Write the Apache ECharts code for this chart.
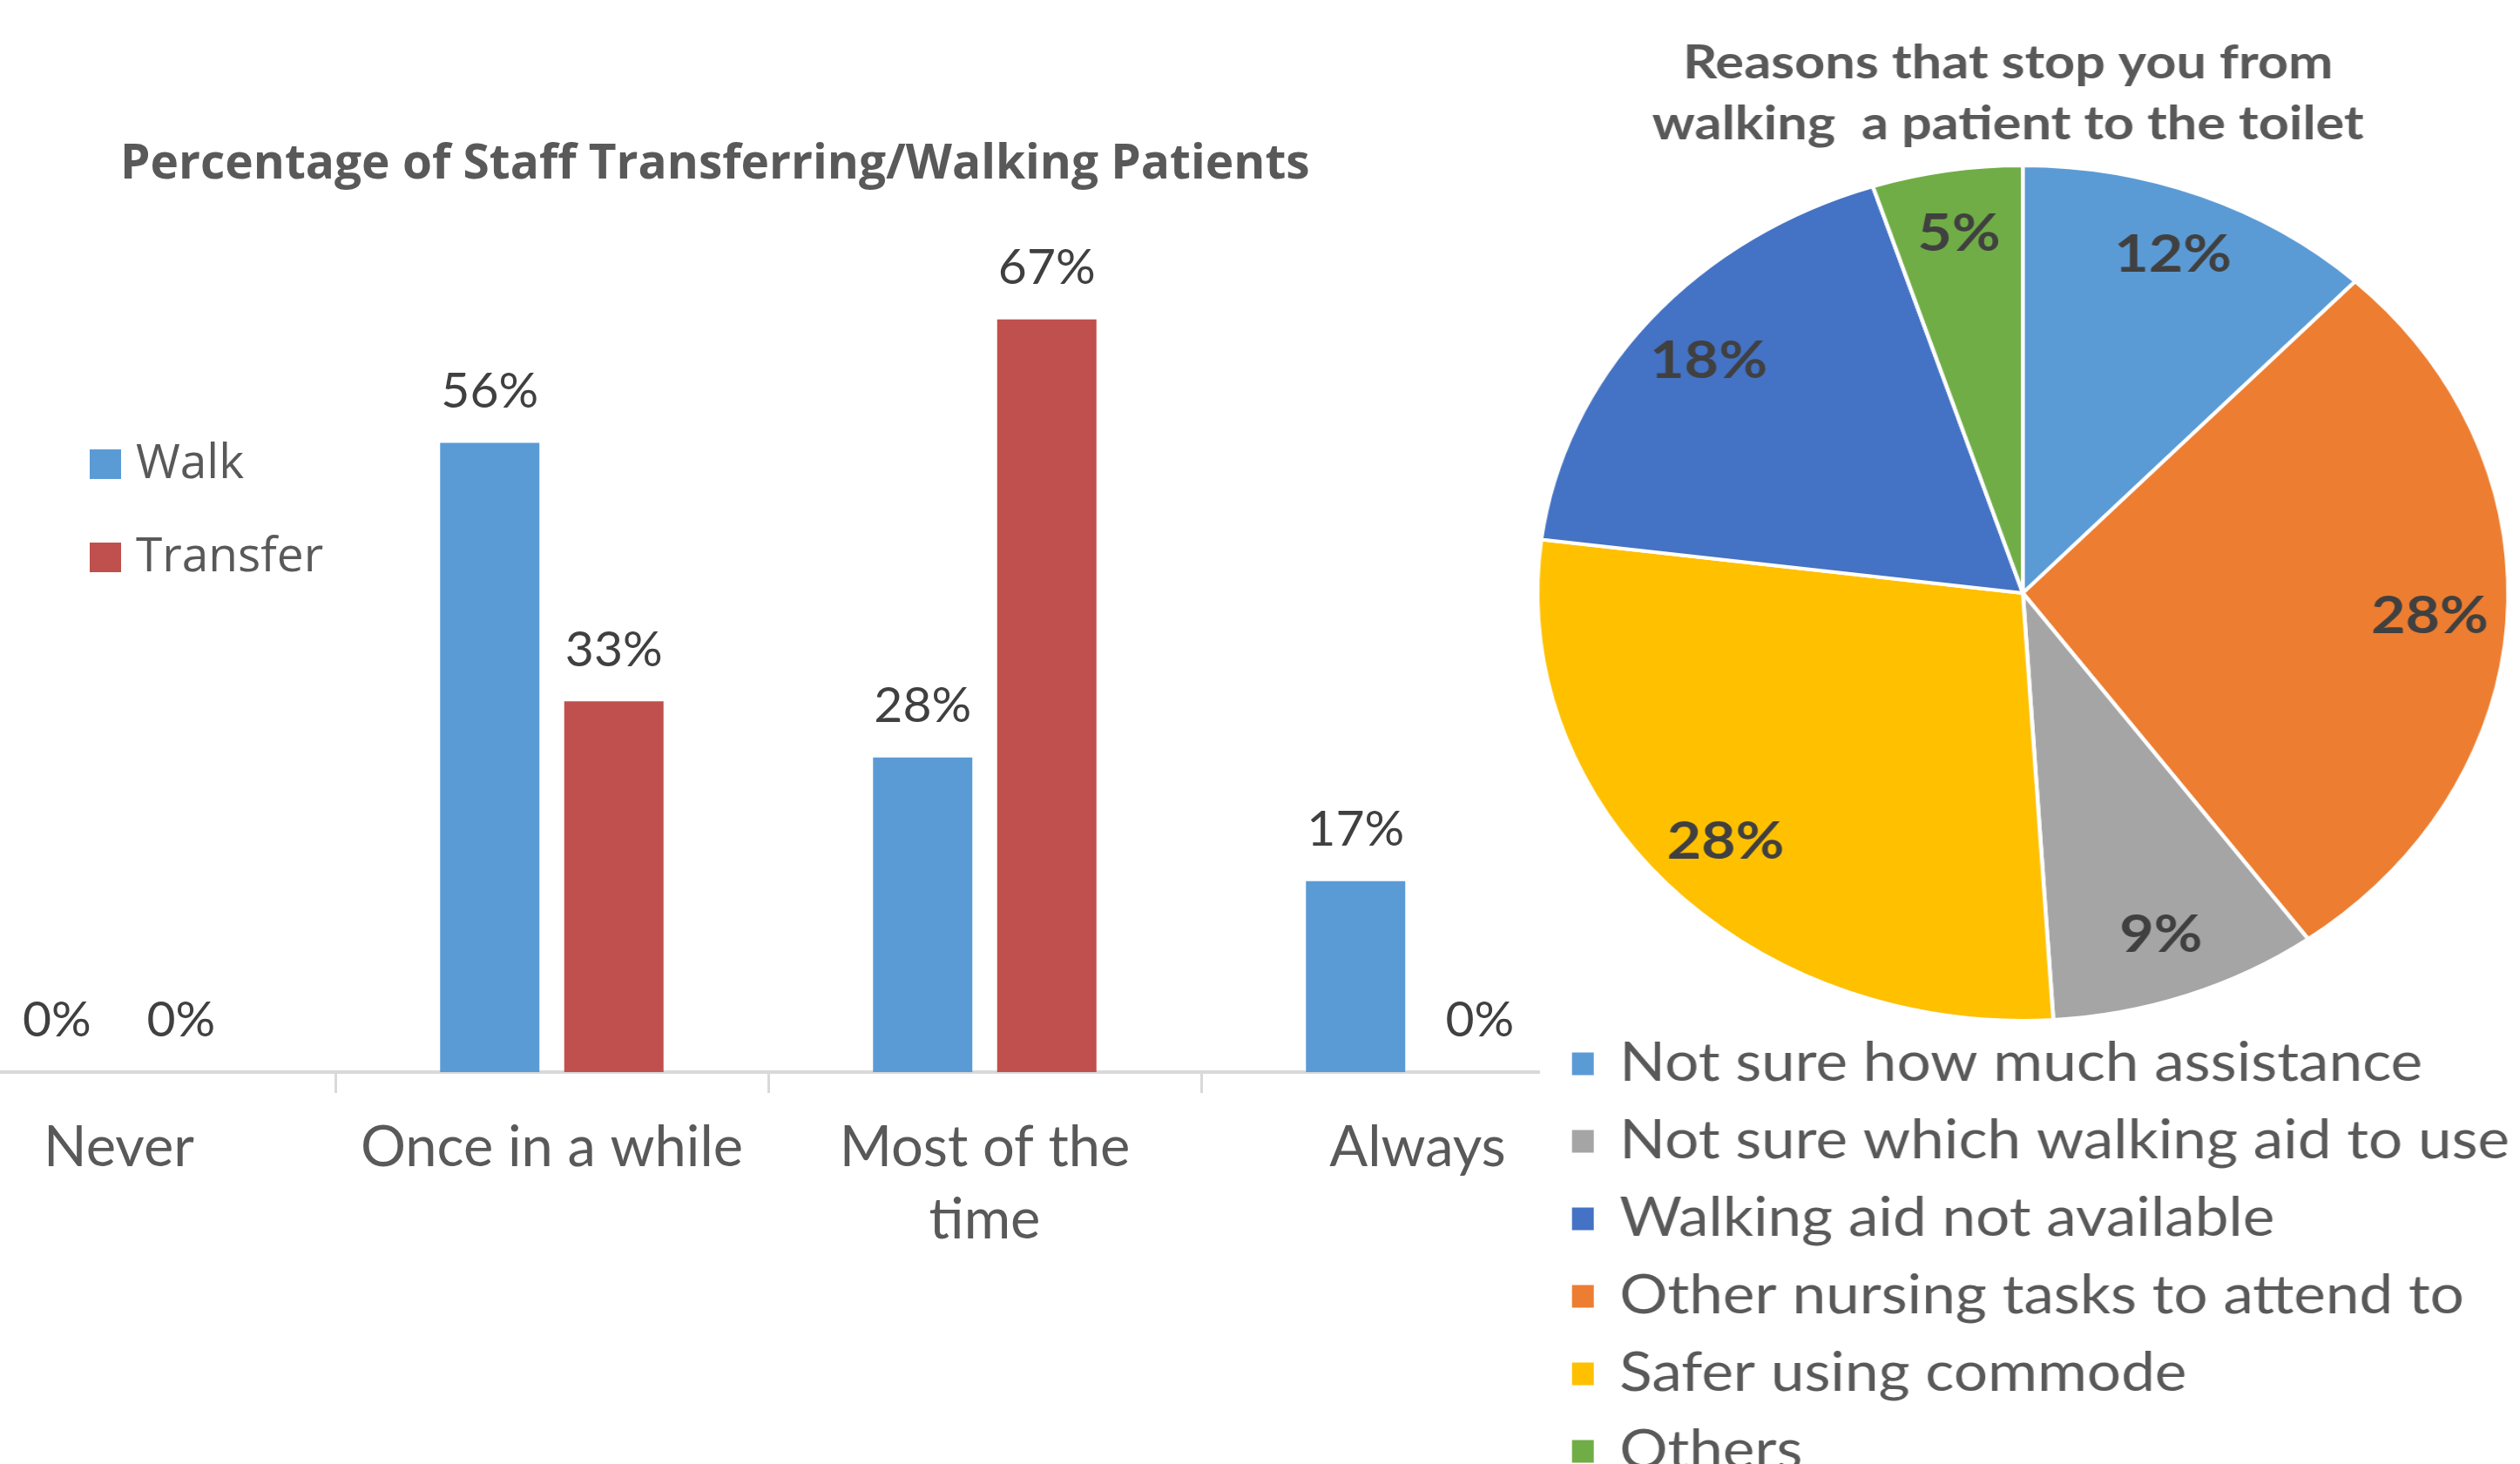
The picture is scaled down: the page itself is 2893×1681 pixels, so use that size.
<!DOCTYPE html>
<html>
<head>
<meta charset="utf-8">
<script src="https://cdn.jsdelivr.net/npm/echarts@6/dist/echarts.min.js"></script>
<style>
  html, body { margin: 0; padding: 0; background: #ffffff; width: 2893px; height: 1681px; overflow: hidden; }
  #barWrap { position: absolute; left: 0; top: 0; width: 1768px; height: 1681px; overflow: hidden; }
  #bar { position: absolute; left: -112px; top: 0; width: 1988px; height: 1681px; }
  #pie { position: absolute; left: 1740px; top: 0; width: 1016px; height: 1800px; transform: scaleX(1.135); transform-origin: left top; }
</style>
</head>
<body>
<div id="barWrap"><div id="bar"></div></div>
<div id="pie"></div>
<script>
// ---- Bar chart data ----
const barTitle = 'Percentage of Staff Transferring/Walking Patients';
const categories = ['Never', 'Once in a while', 'Most of the\ntime', 'Always'];
const walkValues = [0, 56, 28, 17];
const transferValues = [0, 33, 67, 0];
const barSeriesNames = ['Walk', 'Transfer'];

// ---- Pie chart data ----
const pieTitle = 'Reasons that stop you from\nwalking  a patient to the toilet';
const pieNames = ['Not sure how much assistance', 'Other nursing tasks to attend to', 'Not sure which walking aid to use', 'Safer using commode', 'Walking aid not available', 'Others'];
const pieValues = [12, 28, 9, 28, 18, 5];
const pieColors = ['#5B9BD5', '#ED7D31', '#A5A5A5', '#FFC000', '#4472C4', '#70AD47'];
const pieLegendOrder = ['Not sure how much assistance', 'Not sure which walking aid to use', 'Walking aid not available', 'Other nursing tasks to attend to', 'Safer using commode', 'Others'];

const FONT = 'Lato';
const FONT2 = 'Open Sans';
const OFFSET = 112; // bar canvas is shifted left by this much

const bar = echarts.init(document.getElementById('bar'), null, { renderer: 'canvas' });
bar.setOption({
  animation: false,
  backgroundColor: '#ffffff',
  title: {
    text: barTitle,
    left: 133 + OFFSET,
    top: 155,
    textStyle: { fontFamily: FONT2, fontSize: 55, fontWeight: 'bold', color: '#595959', lineHeight: 58 }
  },
  legend: {
    orient: 'vertical',
    left: 98 + OFFSET,
    top: 500,
    itemWidth: 36,
    itemHeight: 34,
    itemGap: 51,
    icon: 'rect',
    data: barSeriesNames,
    textStyle: { fontFamily: FONT2, fontSize: 55, color: '#595959', lineHeight: 56, padding: [0, 0, 0, 12] }
  },
  grid: { left: 0, right: 0, top: 199, bottom: 450 },
  xAxis: {
    type: 'category',
    data: categories,
    axisLine: { lineStyle: { color: '#D9D9D9', width: 4 } },
    axisTick: { show: true, length: 24, lineStyle: { color: '#D9D9D9', width: 3 } },
    axisLabel: { interval: 0, fontFamily: FONT, fontSize: 65, color: '#595959', margin: 46, lineHeight: 83 }
  },
  yAxis: { type: 'value', min: 0, max: 80, show: false, splitLine: { show: false } },
  series: [
    {
      name: barSeriesNames[0], type: 'bar', data: walkValues, barWidth: 114, barGap: '25%',
      itemStyle: { color: '#5B9BD5' },
      label: { show: true, position: 'top', distance: 31, formatter: '{c}%', fontFamily: FONT, fontSize: 57, color: '#404040', lineHeight: 56 }
    },
    {
      name: barSeriesNames[1], type: 'bar', data: transferValues, barWidth: 114, barGap: '25%',
      itemStyle: { color: '#C0504D' },
      label: { show: true, position: 'top', distance: 31, formatter: '{c}%', fontFamily: FONT, fontSize: 57, color: '#404040', lineHeight: 56 }
    }
  ]
});

// ---- Pie ----
const PCX = 513, PCY = 681, PR = 491;
const pieTotal = pieValues.reduce((a, b) => a + b, 0);
const pieMid = [];
(function () {
  let cum = 0;
  for (let i = 0; i < pieValues.length; i++) {
    pieMid.push((cum + pieValues[i] / 2) / pieTotal * Math.PI * 2);
    cum += pieValues[i];
  }
})();

const pie = echarts.init(document.getElementById('pie'), null, { renderer: 'canvas' });
pie.setOption({
  animation: false,
  backgroundColor: 'transparent',
  title: {
    text: pieTitle,
    left: 493,
    textAlign: 'center',
    top: 33,
    textStyle: { fontFamily: FONT, fontSize: 54, fontWeight: 'bold', color: '#595959', lineHeight: 70 }
  },
  legend: {
    orient: 'vertical',
    left: 50,
    top: 1186,
    itemWidth: 24,
    itemHeight: 28,
    itemGap: 28,
    icon: 'rect',
    data: pieLegendOrder,
    textStyle: { fontFamily: FONT, fontSize: 61, color: '#595959', lineHeight: 60, padding: [0, 0, 0, 20] }
  },
  series: [{
    type: 'pie',
    center: [PCX, PCY],
    radius: PR,
    startAngle: 90,
    clockwise: true,
    data: pieNames.map((n, i) => ({ name: n, value: pieValues[i], itemStyle: { color: pieColors[i] } })),
    itemStyle: { borderColor: '#ffffff', borderWidth: 4 },
    label: { show: true, position: 'inside', formatter: '{c}%', fontFamily: FONT, fontSize: 60, fontWeight: 'bold', color: '#404040' },
    labelLine: { show: false },
    labelLayout: function (p) {
      const a = pieMid[p.dataIndex];
      return { x: PCX + 0.84 * PR * Math.sin(a), y: PCY - 0.85 * PR * Math.cos(a), align: 'center', verticalAlign: 'middle' };
    }
  }]
});
</script>
</body>
</html>
